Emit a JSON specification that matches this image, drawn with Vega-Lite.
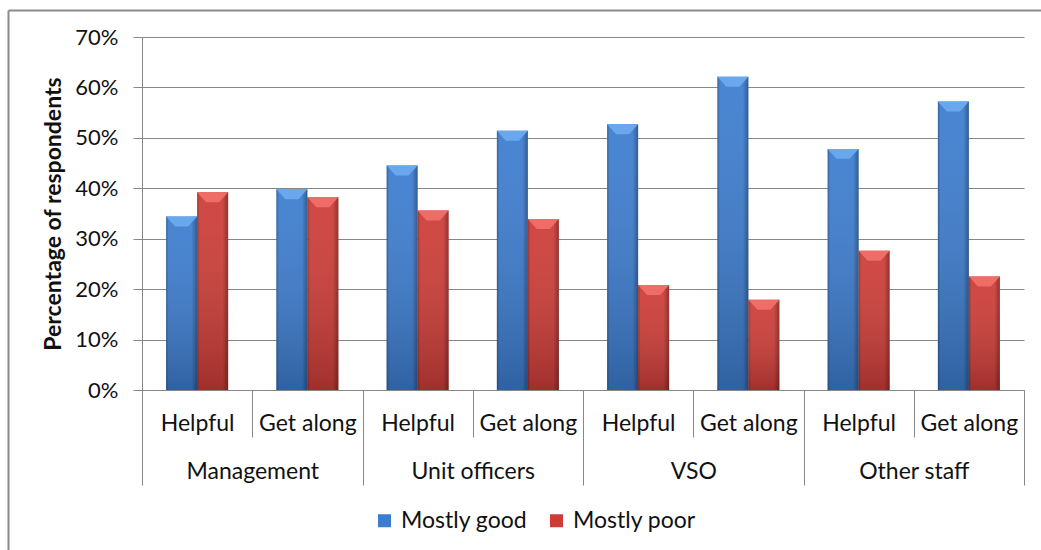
{
  "$schema": "https://vega.github.io/schema/vega-lite/v6.json",
  "width": 882,
  "height": 353,
  "autosize": {"type": "none"},
  "padding": {"left": 142, "top": 37, "right": 17, "bottom": 160},
  "background": "#ffffff",
  "config": {
    "font": "Lato",
    "view": {"stroke": null},
    "axis": {
      "labelColor": "#111111",
      "titleColor": "#111111",
      "domainColor": "#878787",
      "tickColor": "#878787",
      "gridColor": "#878787",
      "labelFont": "Lato",
      "titleFont": "Lato"
    },
    "legend": {"labelFont": "Lato"}
  },
  "data": {
    "values": [
      {"group": "Management", "item": "Helpful", "key": "Management|Helpful", "series": "Mostly good", "value": 34.4},
      {"group": "Management", "item": "Helpful", "key": "Management|Helpful", "series": "Mostly poor", "value": 39.2},
      {"group": "Management", "item": "Get along", "key": "Management|Get along", "series": "Mostly good", "value": 39.8},
      {"group": "Management", "item": "Get along", "key": "Management|Get along", "series": "Mostly poor", "value": 38.2},
      {"group": "Unit officers", "item": "Helpful", "key": "Unit officers|Helpful", "series": "Mostly good", "value": 44.5},
      {"group": "Unit officers", "item": "Helpful", "key": "Unit officers|Helpful", "series": "Mostly poor", "value": 35.6},
      {"group": "Unit officers", "item": "Get along", "key": "Unit officers|Get along", "series": "Mostly good", "value": 51.4},
      {"group": "Unit officers", "item": "Get along", "key": "Unit officers|Get along", "series": "Mostly poor", "value": 33.9},
      {"group": "VSO", "item": "Helpful", "key": "VSO|Helpful", "series": "Mostly good", "value": 52.7},
      {"group": "VSO", "item": "Helpful", "key": "VSO|Helpful", "series": "Mostly poor", "value": 20.8},
      {"group": "VSO", "item": "Get along", "key": "VSO|Get along", "series": "Mostly good", "value": 62.1},
      {"group": "VSO", "item": "Get along", "key": "VSO|Get along", "series": "Mostly poor", "value": 17.9},
      {"group": "Other staff", "item": "Helpful", "key": "Other staff|Helpful", "series": "Mostly good", "value": 47.8},
      {"group": "Other staff", "item": "Helpful", "key": "Other staff|Helpful", "series": "Mostly poor", "value": 27.6},
      {"group": "Other staff", "item": "Get along", "key": "Other staff|Get along", "series": "Mostly good", "value": 57.2},
      {"group": "Other staff", "item": "Get along", "key": "Other staff|Get along", "series": "Mostly poor", "value": 22.5}
    ]
  },
  "layer": [
    {
      "encoding": {
        "x": {
          "field": "key",
          "type": "nominal",
          "sort": [
            "Management|Helpful", "Management|Get along",
            "Unit officers|Helpful", "Unit officers|Get along",
            "VSO|Helpful", "VSO|Get along",
            "Other staff|Helpful", "Other staff|Get along"
          ],
          "scale": {"paddingInner": 0, "paddingOuter": 0},
          "axis": {
            "title": null,
            "labelExpr": "split(datum.value, '|')[1]",
            "labelAngle": 0,
            "labelFontSize": 23,
            "labelBaseline": "middle",
            "labelPadding": -14,
            "labelOverlap": false,
            "tickBand": "extent",
            "tickSize": 47,
            "grid": false
          }
        },
        "xOffset": {
          "field": "series",
          "type": "nominal",
          "sort": ["Mostly good", "Mostly poor"],
          "scale": {"paddingInner": 0, "paddingOuter": 0.778}
        },
        "y": {
          "field": "value",
          "type": "quantitative",
          "scale": {"domain": [0, 70], "nice": false, "zero": true},
          "axis": {
            "values": [0, 10, 20, 30, 40, 50, 60, 70],
            "labelExpr": "datum.value + '%'",
            "labelFontSize": 22,
            "tickSize": 9,
            "labelPadding": 15,
            "grid": true,
            "title": "Percentage of respondents",
            "titleFontSize": 23,
            "titleFontWeight": "bold",
            "titlePadding": 9
          }
        }
      },
      "layer": [
        {
          "mark": {"type": "bar"},
          "encoding": {
            "color": {
              "field": "series",
              "type": "nominal",
              "sort": ["Mostly good", "Mostly poor"],
              "scale": {"range": ["#3d7dcf", "#cd3d38"]},
              "legend": {
                "title": null,
                "orient": "none",
                "legendX": 231,
                "legendY": 472,
                "direction": "horizontal",
                "symbolType": "square",
                "symbolSize": 169,
                "symbolStrokeWidth": 0,
                "labelFontSize": 23,
                "labelColor": "#111111",
                "labelOffset": 5,
                "columnPadding": 17
              }
            }
          }
        },
        {
          "mark": {
            "type": "bar",
            "fill": {
              "gradient": "linear",
              "x1": 0, "y1": 0, "x2": 0, "y2": 1,
              "stops": [
                {"offset": 0, "color": "rgba(255,255,255,0.06)"},
                {"offset": 1, "color": "rgba(0,0,0,0.22)"}
              ]
            }
          }
        },
        {
          "mark": {
            "type": "bar",
            "fill": {
              "gradient": "linear",
              "x1": 0, "y1": 0, "x2": 1, "y2": 0,
              "stops": [
                {"offset": 0, "color": "rgba(0,0,0,0.25)"},
                {"offset": 0.08, "color": "rgba(0,0,0,0)"},
                {"offset": 0.82, "color": "rgba(0,0,0,0)"},
                {"offset": 1, "color": "rgba(0,0,0,0.3)"}
              ]
            }
          }
        },
        {
          "mark": {
            "type": "point",
            "shape": "M-1,0L1,0L0.42,0.64L-0.42,0.64Z",
            "size": 961,
            "filled": true,
            "opacity": 1,
            "strokeWidth": 0
          },
          "encoding": {
            "fill": {
              "condition": {"test": "datum.series === 'Mostly good'", "value": "#6aa8ee"},
              "value": "#ee6d66"
            }
          }
        }
      ]
    },
    {
      "mark": {"type": "point", "opacity": 0},
      "encoding": {
        "x": {
          "field": "group",
          "type": "nominal",
          "sort": ["Management", "Unit officers", "VSO", "Other staff"],
          "scale": {"paddingInner": 0, "paddingOuter": 0},
          "axis": {
            "orient": "bottom",
            "title": null,
            "domain": false,
            "labelAngle": 0,
            "labelFontSize": 23,
            "labelBaseline": "middle",
            "labelPadding": -14,
            "labelOverlap": false,
            "tickBand": "extent",
            "tickSize": 95,
            "grid": false
          }
        }
      }
    },
    {
      "mark": {"type": "point", "opacity": 0},
      "encoding": {
        "x": {
          "field": "value",
          "type": "quantitative",
          "scale": {"range": [-134, 1040]},
          "axis": {
            "orient": "top",
            "offset": 27,
            "labels": false,
            "ticks": false,
            "grid": false,
            "title": null,
            "domainColor": "#8c8c8c",
            "domainWidth": 2
          }
        },
        "y": {
          "field": "value",
          "type": "quantitative",
          "scale": {"range": [600, -27]},
          "axis": {
            "orient": "left",
            "offset": 134,
            "labels": false,
            "ticks": false,
            "grid": false,
            "title": null,
            "domainColor": "#8c8c8c",
            "domainWidth": 2
          }
        }
      }
    }
  ],
  "resolve": {"scale": {"x": "independent", "y": "independent"}}
}
